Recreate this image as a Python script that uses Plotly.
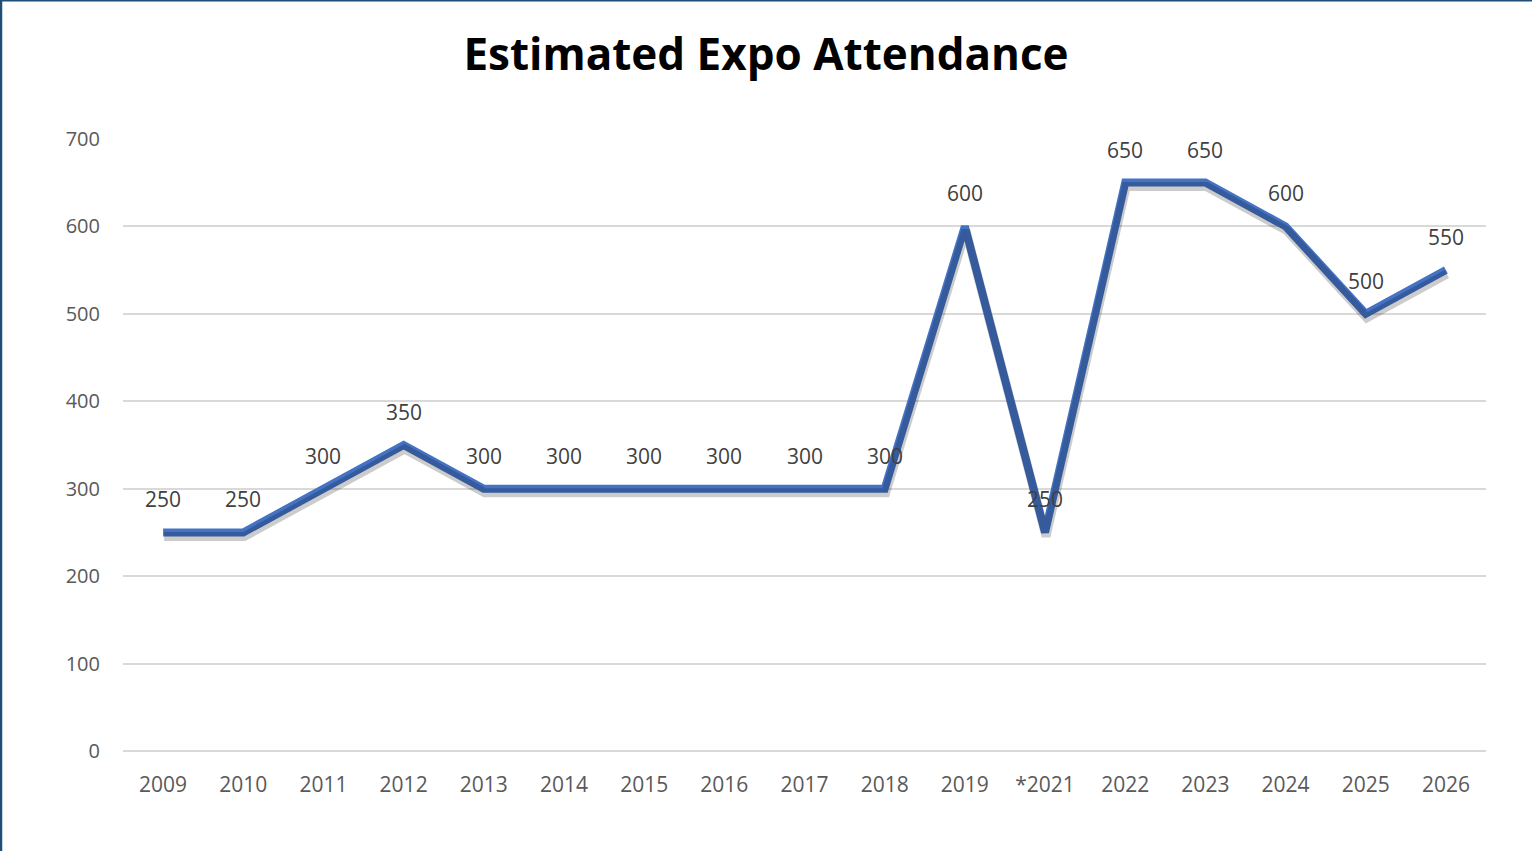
import plotly.graph_objects as go

years = ["2009", "2010", "2011", "2012", "2013", "2014", "2015", "2016", "2017",
         "2018", "2019", "*2021", "2022", "2023", "2024", "2025", "2026"]
attendance = [250, 250, 300, 350, 300, 300, 300, 300, 300, 300, 600, 250, 650, 650, 600, 500, 550]
y_ticks = [0, 100, 200, 300, 400, 500, 600, 700]

W, H = 1532, 851
ML, MR, MT, MB = 123, 46, 138, 99
PW, PH = W - ML - MR, H - MT - MB

n = len(years)
xr = [-0.5, n - 0.5]
yr = [-1, 701]
# shadow offset (pixels) applied via shifted axis ranges
sx, sy = 1, 4
dx = sx * (xr[1] - xr[0]) / PW
dy = sy * (yr[1] - yr[0]) / PH

fig = go.Figure()
fig.add_trace(go.Scatter(
    x=list(range(n)), y=attendance, mode="lines",
    line=dict(color="rgba(0,0,0,0.2)", width=9),
    xaxis="x2", yaxis="y2", hoverinfo="skip", showlegend=False))
fig.add_trace(go.Scatter(
    x=list(range(n)), y=attendance, mode="lines",
    line=dict(color="#4472C4", width=8), showlegend=False))

for i, v in enumerate(attendance):
    fig.add_annotation(x=i, y=v, text=str(v), showarrow=False, yshift=33,
                       font=dict(family="Open Sans", size=21, color="#404040"))

fig.update_layout(
    width=W, height=H,
    margin=dict(l=ML, r=MR, t=MT, b=MB),
    paper_bgcolor="white", plot_bgcolor="white",
    title=dict(text="<b>Estimated Expo Attendance</b>", x=0.5, xref="container",
               y=1 - 55 / H, yanchor="middle", xanchor="center",
               font=dict(family="Open Sans", size=44, color="black")),
    xaxis=dict(range=xr, tickmode="array", tickvals=list(range(n)), ticktext=years,
               showgrid=False, zeroline=False, showline=False, ticks="",
               ticklabelstandoff=18,
               tickfont=dict(family="Open Sans", size=21, color="#595959")),
    yaxis=dict(range=yr, tickvals=y_ticks, showgrid=True, gridcolor="#d9d9d9",
               gridwidth=1.5, zeroline=True, zerolinecolor="#d9d9d9", zerolinewidth=1.5,
               showline=False, ticks="", ticklabelstandoff=22,
               tickfont=dict(family="Open Sans", size=20, color="#595959")),
    xaxis2=dict(range=[xr[0] - dx, xr[1] - dx], overlaying="x", visible=False),
    yaxis2=dict(range=[yr[0] + dy, yr[1] + dy], overlaying="y", visible=False),
)

# thin dark-blue frame on the left and top of the picture
fig.add_shape(type="line", xref="paper", yref="paper",
              x0=-ML / PW + 1 / PW, x1=-ML / PW + 1 / PW, y0=-MB / PH, y1=1 + MT / PH,
              line=dict(color="#1F4E79", width=2.5))
fig.add_shape(type="line", xref="paper", yref="paper",
              x0=-ML / PW, x1=1 + MR / PW, y0=1 + MT / PH - 0.5 / PH, y1=1 + MT / PH - 0.5 / PH,
              line=dict(color="#1F4E79", width=2))

fig.write_html("out.html", config={"displayModeBar": False},
               post_script="document.body.style.margin='0';document.body.style.padding='0';")
